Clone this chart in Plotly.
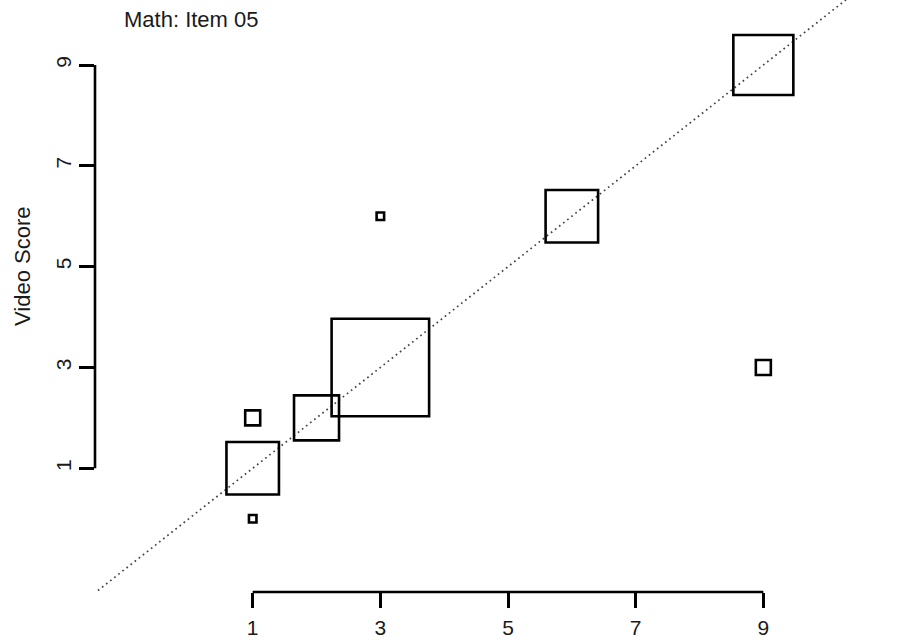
import plotly.graph_objects as go

# Data
x_scores = [1, 1, 1, 2, 3, 3, 6, 9, 9]          # x score
video_scores = [0, 1, 2, 2, 3, 6, 6, 3, 9]      # Video Score
counts = [1, 7, 2, 6, 13, 1, 7, 2, 8]           # number of cases (square size)
tick_vals = [1, 3, 5, 7, 9]
tick_text = ["1", "3", "5", "7", "9"]
diag = [-2, 12]

W, H = 918, 644
L, B = 95, 52
PW, PH = W - L, H - B
x_unit, y_unit = 63.83, 50.41
x0 = 1 - (252.7 - L) / x_unit
y0 = 1 - (PH - 468.3) / y_unit
xr = [x0, x0 + PW / x_unit]
yr = [y0, y0 + PH / y_unit]

FONT = "Liberation Sans, Arial, sans-serif"
TXT = "#1a1a1a"

fig = go.Figure()
fig.add_trace(go.Scatter(
    x=diag, y=diag, mode="lines",
    line=dict(color="#444444", width=1.7, dash="1.7px,3.5px"),
    hoverinfo="skip", showlegend=False))
fig.add_trace(go.Scatter(
    x=x_scores, y=video_scores, mode="markers",
    marker=dict(symbol="square-open", size=counts, sizemode="diameter",
                sizeref=1 / 7.5, color="black", opacity=1,
                line=dict(width=2.6, color="black")),
    showlegend=False))

# Axis lines spanning only 1..9 (R style)
fig.add_shape(type="line", xref="x", yref="paper", x0=1, x1=9, y0=0, y1=0,
              line=dict(color="black", width=2.6))
fig.add_shape(type="line", xref="paper", yref="y", x0=0, x1=0, y0=1, y1=9,
              line=dict(color="black", width=2.6))

fig.update_layout(
    width=W, height=H,
    margin=dict(l=L, r=0, t=0, b=B, autoexpand=False),
    paper_bgcolor="white", plot_bgcolor="white",
    font=dict(family=FONT, size=22, color=TXT),
    xaxis=dict(range=xr, showgrid=False, zeroline=False, showline=False,
               tickmode="array", tickvals=tick_vals, ticktext=tick_text,
               ticks="outside", ticklen=15, tickwidth=2.6, tickcolor="black",
               ticklabelstandoff=2, automargin=False,
               tickfont=dict(size=21, color=TXT)),
    yaxis=dict(range=yr, showgrid=False, zeroline=False, showline=False,
               tickmode="array", tickvals=tick_vals, ticktext=tick_text,
               ticks="outside", ticklen=15, tickwidth=2.6, tickcolor="black",
               tickangle=-90, automargin=False,
               tickfont=dict(size=21, color=TXT)),
    annotations=[
        dict(text="Math: Item 05", xref="paper", yref="paper",
             x=(121.5 - L) / PW, y=(PH - 19) / PH, xanchor="left", yanchor="middle",
             showarrow=False, font=dict(size=22, color=TXT)),
        dict(text="Video Score", xref="paper", yref="paper",
             x=(22.5 - L) / PW, y=(PH - 266.5) / PH, xanchor="center", yanchor="middle",
             textangle=-90, showarrow=False, font=dict(size=22, color=TXT)),
    ],
)

fig.write_html("out.html", config={"displayModeBar": False},
               post_script="document.body.style.margin='0';document.body.style.overflow='hidden';")
